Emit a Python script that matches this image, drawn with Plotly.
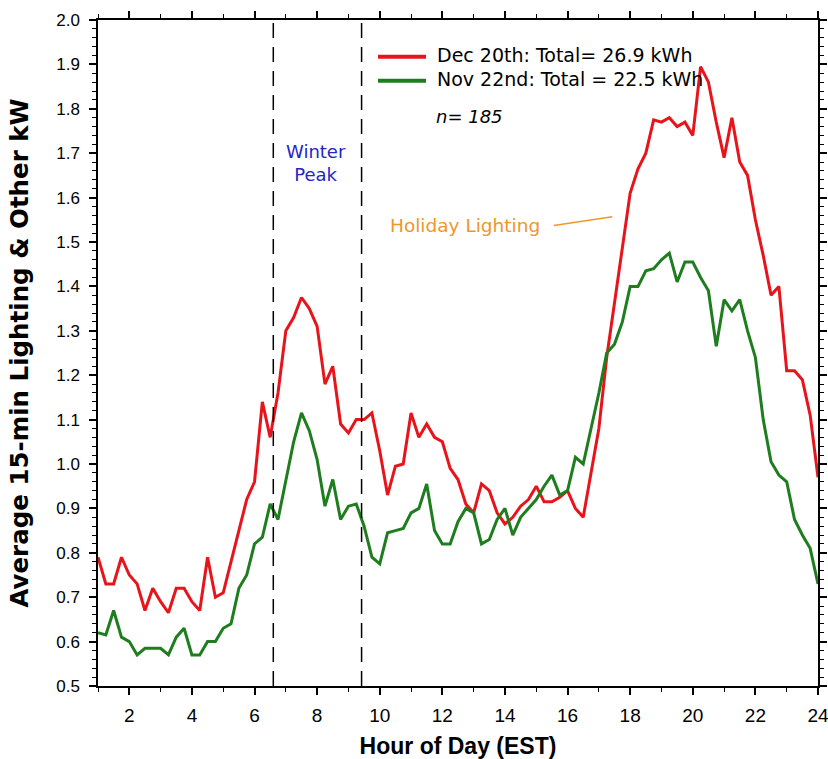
import plotly.graph_objects as go

# 15-minute intervals from hour 1 to hour 24
hours = [1 + 0.25 * i for i in range(93)]

dec20_kw = [
    0.79, 0.73, 0.73, 0.79, 0.75, 0.73, 0.67, 0.72, 0.69, 0.665, 0.72, 0.72, 0.69, 0.67, 0.79, 0.70,
    0.71, 0.78, 0.85, 0.92, 0.96, 1.14, 1.06, 1.16, 1.30, 1.33, 1.375, 1.35, 1.31, 1.18, 1.22, 1.09,
    1.07, 1.10, 1.10, 1.115, 1.03, 0.93, 0.995, 1.00, 1.115, 1.06, 1.09, 1.06, 1.05, 0.99, 0.965, 0.91,
    0.89, 0.955, 0.94, 0.89, 0.865, 0.88, 0.905, 0.92, 0.95, 0.915, 0.915, 0.925, 0.94, 0.90, 0.88, 0.98,
    1.08, 1.24, 1.36, 1.49, 1.61, 1.665, 1.70, 1.775, 1.77, 1.78, 1.76, 1.77, 1.74, 1.895, 1.86, 1.77,
    1.69, 1.78, 1.68, 1.65, 1.55, 1.47, 1.38, 1.40, 1.21, 1.21, 1.19, 1.11,
    0.97,
]

nov22_kw = [
    0.62, 0.615, 0.67, 0.61, 0.60, 0.57, 0.585, 0.585, 0.585, 0.57, 0.61, 0.63, 0.57, 0.57, 0.60, 0.60,
    0.63, 0.64, 0.72, 0.75, 0.82, 0.835, 0.91, 0.875, 0.96, 1.05, 1.115, 1.075, 1.01, 0.905, 0.965, 0.875,
    0.905, 0.91, 0.86, 0.79, 0.775, 0.845, 0.85, 0.855, 0.89, 0.90, 0.955, 0.85, 0.82, 0.82, 0.87, 0.90,
    0.89, 0.82, 0.83, 0.875, 0.90, 0.84, 0.88, 0.90, 0.92, 0.95, 0.975, 0.93, 0.94, 1.015, 1.00, 1.08,
    1.16, 1.25, 1.27, 1.32, 1.40, 1.40, 1.435, 1.44, 1.46, 1.475, 1.41, 1.455, 1.455, 1.42, 1.39, 1.265,
    1.37, 1.345, 1.37, 1.30, 1.24, 1.10, 1.005, 0.975, 0.96, 0.875, 0.84, 0.81,
    0.73,
]

series_names = ["Dec 20th: Total= 26.9 kWh", "Nov 22nd: Total = 22.5 kWh"]
series_colors = ["#e8141b", "#1e7d1e"]
winter_peak_bounds = [6.6, 9.42]
sample_label = "n= 185"

TXT_FONT = "DejaVu Sans"

FIG_W, FIG_H = 828, 759
M_L, M_R, M_T, M_B = 98, 10, 20, 73
PLOT_L = M_L
PLOT_R = FIG_W - M_R
PLOT_T = M_T
PLOT_B = FIG_H - M_B


def px(p):
    return (p - PLOT_L) / float(PLOT_R - PLOT_L)


def py(q):
    return (PLOT_B - q) / float(PLOT_B - PLOT_T)


fig = go.Figure()
fig.add_trace(go.Scatter(x=hours, y=dec20_kw, mode="lines", name=series_names[0],
                         line=dict(color=series_colors[0], width=3), showlegend=False))
fig.add_trace(go.Scatter(x=hours, y=nov22_kw, mode="lines", name=series_names[1],
                         line=dict(color=series_colors[1], width=3), showlegend=False))

# winter peak dashed bounds
for xb in winter_peak_bounds:
    fig.add_shape(type="line", xref="x", yref="paper", x0=xb, x1=xb, y0=0, y1=1,
                  line=dict(color="black", width=1.5, dash="15px,9px"))

# manual legend
for i, (nm, col) in enumerate(zip(series_names, series_colors)):
    yy = py(56.7 + 24 * i)
    fig.add_shape(type="line", xref="paper", yref="paper", x0=px(378), x1=px(426), y0=yy, y1=yy,
                  line=dict(color=col, width=4))
    fig.add_annotation(xref="paper", yref="paper", x=px(435), y=py(55 + 23.5 * i), text=nm,
                       showarrow=False, xanchor="left", yanchor="middle",
                       font=dict(family=TXT_FONT, size=19, color="black"))

fig.add_annotation(xref="paper", yref="paper", x=px(434), y=py(116.7), text="<i>" + sample_label + "</i>",
                   showarrow=False, xanchor="left", yanchor="middle",
                   font=dict(family=TXT_FONT, size=18, color="black"))

fig.add_annotation(xref="paper", yref="paper", x=px(316), y=py(162.5), text="Winter<br>Peak",
                   showarrow=False, xanchor="center", yanchor="middle", align="center",
                   font=dict(family=TXT_FONT, size=18, color="#2424c8"))

fig.add_annotation(xref="paper", yref="paper", x=px(388), y=py(225), text="Holiday Lighting",
                   showarrow=False, xanchor="left", yanchor="middle",
                   font=dict(family=TXT_FONT, size=18.5, color="#f0962a"))
fig.add_shape(type="line", xref="x", yref="y", x0=15.56, x1=17.43, y0=1.537, y1=1.557,
              line=dict(color="#f0962a", width=1.5))

fig.update_layout(
    width=FIG_W, height=FIG_H,
    margin=dict(l=M_L, r=M_R, t=M_T, b=M_B),
    paper_bgcolor="white", plot_bgcolor="white",
    showlegend=False,
)

fig.update_xaxes(
    range=[1, 24], tick0=0, dtick=2, showgrid=False, zeroline=False,
    showline=True, linecolor="black", linewidth=1.5, mirror="allticks",
    ticks="outside", ticklen=7, tickwidth=1.5, tickcolor="black",
    minor=dict(dtick=1, tick0=0, ticks="outside", ticklen=4, tickwidth=1.2, tickcolor="black", showgrid=False),
    tickfont=dict(family="Liberation Sans", size=19, color="black"),
    ticklabelstandoff=4, ticklabeloverflow="allow",
    title=dict(text="<b>Hour of Day (EST)</b>", standoff=18,
               font=dict(family="Liberation Sans", size=23, color="black")),
    automargin=False,
)
fig.update_yaxes(
    range=[0.5, 2.0], tick0=0, dtick=0.1, tickformat=".1f", showgrid=False, zeroline=False,
    showline=True, linecolor="black", linewidth=1.5, mirror="allticks",
    ticks="outside", ticklen=7, tickwidth=1.5, tickcolor="black",
    minor=dict(dtick=0.02, ticks="outside", ticklen=4, tickwidth=1.2, tickcolor="black", showgrid=False),
    tickfont=dict(family="Liberation Sans", size=17, color="black"),
    ticklabelstandoff=6, ticklabeloverflow="allow",
    title=dict(text="<b>Average 15-min Lighting & Other kW</b>", standoff=21,
               font=dict(family=TXT_FONT, size=24.5, color="black")),
    automargin=False,
)

fig.write_html(
    "out.html",
    config={"displayModeBar": False},
    post_script="document.body.style.margin='0';document.body.style.overflow='hidden';",
)
